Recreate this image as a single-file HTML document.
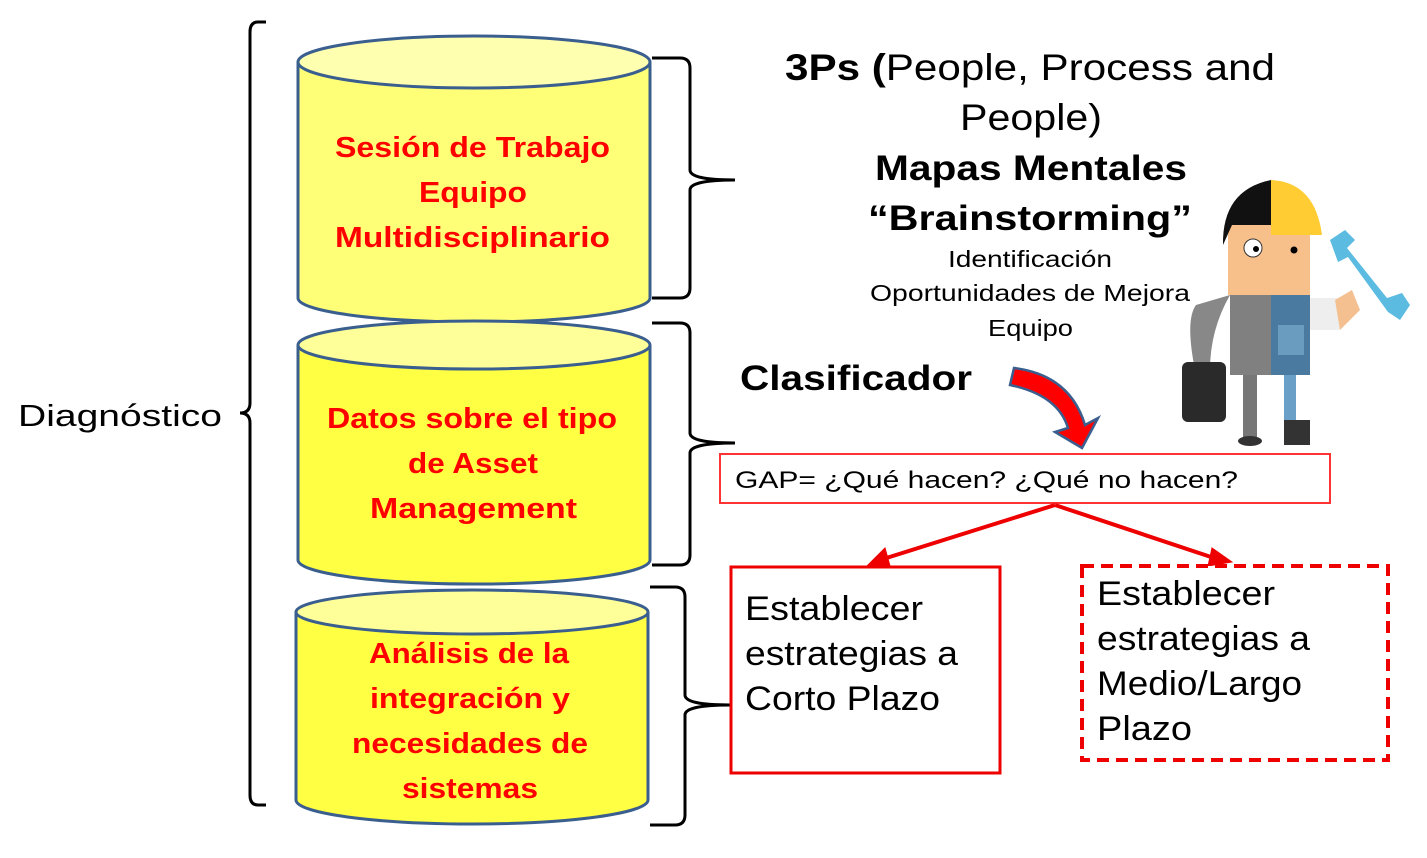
<!DOCTYPE html>
<html><head><meta charset="utf-8"><style>
body{margin:0;background:#fff;width:1427px;height:858px;overflow:hidden}
svg{display:block}
.r{font-family:"Liberation Sans",sans-serif;font-weight:bold;fill:#f00;font-size:29px}
.k{font-family:"Liberation Sans",sans-serif;fill:#000}
</style></head><body>
<svg width="1427" height="858" viewBox="0 0 1427 858">
<g stroke="#3a5f8f" stroke-width="3">
<path d="M298 62 V298 A176 24 0 0 0 650 298 V62" fill="#ffff77"/>
<ellipse cx="474" cy="62" rx="176" ry="26" fill="#ffffb0"/>
<path d="M298 345 V560 A176 24 0 0 0 650 560 V345" fill="#ffff44"/>
<ellipse cx="474" cy="345" rx="176" ry="24" fill="#ffff99"/>
<path d="M296 612 V800 A176 24 0 0 0 648 800 V612" fill="#ffff44"/>
<ellipse cx="472" cy="612" rx="176" ry="22" fill="#ffff99"/>
</g>
<g lengthAdjust="spacingAndGlyphs">
<text class="r" x="335" y="157" textLength="275" lengthAdjust="spacingAndGlyphs">Sesión de Trabajo</text>
<text class="r" x="419" y="202" textLength="108" lengthAdjust="spacingAndGlyphs">Equipo</text>
<text class="r" x="335" y="247" textLength="275" lengthAdjust="spacingAndGlyphs">Multidisciplinario</text>
<text class="r" x="327" y="428" textLength="290" lengthAdjust="spacingAndGlyphs">Datos sobre el tipo</text>
<text class="r" x="408" y="473" textLength="130" lengthAdjust="spacingAndGlyphs">de Asset</text>
<text class="r" x="370" y="518" textLength="207" lengthAdjust="spacingAndGlyphs">Management</text>
<text class="r" x="369" y="663" textLength="200" lengthAdjust="spacingAndGlyphs">Análisis de la</text>
<text class="r" x="370" y="708" textLength="200" lengthAdjust="spacingAndGlyphs">integración y</text>
<text class="r" x="352" y="753" textLength="236" lengthAdjust="spacingAndGlyphs">necesidades de</text>
<text class="r" x="402" y="798" textLength="136" lengthAdjust="spacingAndGlyphs">sistemas</text>
</g>
<g fill="none" stroke="#000" stroke-width="3">
<path d="M266 22 H258 Q250 22 250 32 V403 Q250 413 240 413 Q250 413 250 423 V795 Q250 805 258 805 H266"/>
<path d="M652 58 H680 Q690 58 690 68 V170 Q690 180 735 180 Q690 180 690 190 V288 Q690 298 680 298 H652"/>
<path d="M652 323 H680 Q690 323 690 333 V433 Q690 443 735 443 Q690 443 690 453 V555 Q690 565 680 565 H652"/>
<path d="M650 587 H675 Q685 587 685 597 V695 Q685 705 730 705 Q685 705 685 715 V815 Q685 825 675 825 H650"/>
</g>
<text class="k" x="18" y="426" font-size="31" textLength="204" lengthAdjust="spacingAndGlyphs">Diagnóstico</text>
<g class="k">
<text x="785" y="80" font-size="37" textLength="490" lengthAdjust="spacingAndGlyphs"><tspan font-weight="bold">3Ps (</tspan>People, Process and</text>
<text x="960" y="130" font-size="37" textLength="142" lengthAdjust="spacingAndGlyphs">People)</text>
<text x="875" y="180" font-size="35" font-weight="bold" textLength="312" lengthAdjust="spacingAndGlyphs">Mapas Mentales</text>
<text x="868" y="230" font-size="35" font-weight="bold" textLength="324" lengthAdjust="spacingAndGlyphs">“Brainstorming”</text>
<text x="948" y="267" font-size="23" textLength="164" lengthAdjust="spacingAndGlyphs">Identificación</text>
<text x="870" y="301" font-size="23" textLength="320" lengthAdjust="spacingAndGlyphs">Oportunidades  de Mejora</text>
<text x="988" y="336" font-size="23" textLength="85" lengthAdjust="spacingAndGlyphs">Equipo</text>
</g>
<text class="k" x="740" y="390" font-size="35" font-weight="bold" textLength="232" lengthAdjust="spacingAndGlyphs">Clasificador</text>
<path d="M1014 368 Q1070 375 1085 425 L1098 418 L1082 448 L1055 432 L1068 428 Q1058 395 1010 385 Z" fill="#f00" stroke="#3a5f8f" stroke-width="2.5"/>
<rect x="720" y="454" width="610" height="49" fill="#fff" stroke="#f33" stroke-width="2"/>
<text class="k" x="735" y="488" font-size="24" textLength="503" lengthAdjust="spacingAndGlyphs">GAP= ¿Qué hacen?  ¿Qué no hacen?</text>
<g stroke="#e00" stroke-width="4" fill="#e00">
<line x1="1055" y1="505" x2="880" y2="560"/>
<line x1="1055" y1="505" x2="1220" y2="560"/>
<polygon points="868,565 885,548 890,566" stroke-width="1"/>
<polygon points="1232,562 1212,548 1208,566" stroke-width="1"/>
</g>
<rect x="731" y="567" width="269" height="206" fill="#fff" stroke="#e00" stroke-width="3"/>
<rect x="1082" y="566" width="306" height="194" fill="#fff" stroke="#e00" stroke-width="4" stroke-dasharray="12,7"/>
<g class="k" font-size="34">
<text x="745" y="620" textLength="178" lengthAdjust="spacingAndGlyphs">Establecer</text>
<text x="745" y="665" textLength="213" lengthAdjust="spacingAndGlyphs">estrategias a</text>
<text x="745" y="710" textLength="195" lengthAdjust="spacingAndGlyphs">Corto Plazo</text>
<text x="1097" y="605" textLength="178" lengthAdjust="spacingAndGlyphs">Establecer</text>
<text x="1097" y="650" textLength="213" lengthAdjust="spacingAndGlyphs">estrategias a</text>
<text x="1097" y="695" textLength="205" lengthAdjust="spacingAndGlyphs">Medio/Largo</text>
<text x="1097" y="740" textLength="95" lengthAdjust="spacingAndGlyphs">Plazo</text>
</g>
<g>
<rect x="1243" y="370" width="14" height="70" fill="#777"/>
<rect x="1284" y="370" width="12" height="60" fill="#6aa0c8"/>
<ellipse cx="1250" cy="441" rx="12" ry="5" fill="#333"/>
<path d="M1284 420 H1310 V445 H1284Z" fill="#333"/>
<path d="M1230 293 H1310 V375 H1230Z" fill="#808080"/>
<path d="M1271 293 H1310 V375 H1271Z" fill="#4a7aa0"/>
<rect x="1278" y="325" width="26" height="30" fill="#6a9cc0"/>
<path d="M1196 305 Q1185 320 1195 370 L1210 370 Q1210 330 1230 295Z" fill="#888"/>
<path d="M1310 298 H1340 V330 H1310Z" fill="#eee"/>
<path d="M1335 300 L1352 290 L1360 310 L1340 330Z" fill="#f4c090"/>
<path d="M1330 240 l15 -10 l10 10 l-8 8 l40 50 l15 -5 l8 12 l-10 15 l-12 -8 l-40 -55 l-10 5Z" fill="#5bbbe0"/>
<rect x="1182" y="362" width="44" height="60" rx="6" fill="#2a2a2a"/>
<rect x="1228" y="220" width="82" height="75" fill="#f7c08a"/>
<path d="M1223 245 Q1222 190 1271 180 V225 H1232Z" fill="#111"/>
<path d="M1271 180 Q1315 182 1322 235 H1271Z" fill="#ffcc33"/>
<circle cx="1253" cy="248" r="9" fill="#fff" stroke="#333"/>
<circle cx="1256" cy="249" r="3" fill="#000"/>
<circle cx="1294" cy="250" r="3.5" fill="#000"/>
</g>
</svg>
</body></html>
